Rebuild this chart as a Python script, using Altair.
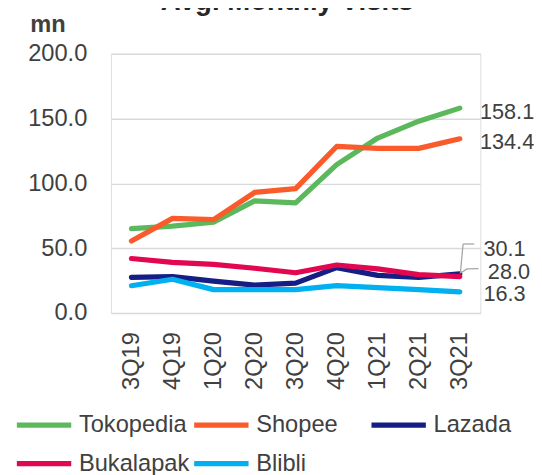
import altair as alt
import pandas as pd

chart_title = "Avg. Monthly Visits"
quarters = ["3Q19", "4Q19", "1Q20", "2Q20", "3Q20", "4Q20", "1Q21", "2Q21", "3Q21"]
series_names = ["Tokopedia", "Shopee", "Lazada", "Bukalapak", "Blibli"]
tokopedia = [65.0, 67.0, 70.0, 86.5, 85.0, 114.5, 135.0, 148.0, 158.1]
shopee = [55.5, 73.0, 72.0, 93.0, 96.0, 128.5, 127.0, 127.0, 134.4]
lazada = [27.5, 28.0, 24.5, 21.5, 23.0, 35.0, 29.0, 27.5, 30.1]
bukalapak = [42.0, 39.0, 37.5, 34.5, 31.0, 37.0, 34.0, 29.5, 28.0]
blibli = [21.0, 26.0, 18.0, 18.0, 18.0, 21.0, 19.5, 18.0, 16.3]
colors = ["#5CB85C", "#FA5B2B", "#141E85", "#E2074F", "#00B0F0"]
y_ticks = [0, 50, 100, 150, 200]

values = [tokopedia, shopee, lazada, bukalapak, blibli]
rows = []
for name, vals in zip(series_names, values):
    for q, v in zip(quarters, vals):
        rows.append({"quarter": q, "series": name, "value": v})
df = pd.DataFrame(rows)
last = df[df["quarter"] == quarters[-1]]

FONT = "Liberation Sans"
TXT = "#404040"

x_enc = alt.X(
    "quarter:N",
    sort=quarters,
    scale=alt.Scale(type="point", padding=0.5, domain=quarters),
    axis=alt.Axis(
        title=None, labelAngle=270, labelAlign="right", labelBaseline="middle",
        labelPadding=19, labelFontSize=24, labelColor=TXT, labelFont=FONT,
        ticks=False, domain=False, grid=False,
    ),
)
y_enc = alt.Y(
    "value:Q",
    scale=alt.Scale(domain=[0, 200], nice=False),
    axis=alt.Axis(
        values=y_ticks, format=".1f", labelFontSize=24, labelColor=TXT,
        labelFont=FONT, labelPadding=24.5, ticks=False, domain=False,
        grid=True, gridColor="#D9D9D9", gridWidth=1.5,
        title="mn", titleAngle=0, titleFontSize=24, titleFontWeight="bold",
        titleFont=FONT, titleColor=TXT, titleX=-64.5, titleY=-23,
        titleAlign="center", titleBaseline="alphabetic",
    ),
)
color_enc = alt.Color(
    "series:N",
    sort=series_names,
    scale=alt.Scale(domain=series_names, range=colors),
    legend=alt.Legend(
        title=None, orient="none", legendX=-94.9, legendY=350,
        direction="horizontal", columns=3, gridAlign="all",
        columnPadding=-7, rowPadding=0, labelOffset=8.4,
        symbolType="M-1.15,0H1.15", symbolSize=2304, symbolStrokeWidth=5.3,
        labelFontSize=24, labelFont=FONT, labelColor=TXT, labelLimit=300,
        padding=0,
    ),
)

layers = []
for name in series_names:
    layers.append(
        alt.Chart(df)
        .transform_filter(alt.datum.series == name)
        .mark_line(strokeWidth=5.3, strokeCap="round", strokeJoin="round")
        .encode(x=x_enc, y=y_enc, color=color_enc)
    )

label_style = {
    "Tokopedia": (20.5, 4.0),
    "Shopee": (20.5, 3.7),
    "Lazada": (24.0, -25.4),
    "Bukalapak": (28.5, -4.7),
    "Blibli": (24.0, 2.4),
}
for name in series_names:
    dx, dy = label_style[name]
    layers.append(
        alt.Chart(last)
        .transform_filter(alt.datum.series == name)
        .mark_text(align="left", baseline="middle", dx=dx, dy=dy,
                   fontSize=22, font=FONT, color=TXT)
        .encode(x=x_enc, y=y_enc, text=alt.Text("value:Q", format=".1f"))
    )

leader_style = {
    "Lazada": [((0.6, -0.4), (3.3, -30.4)), ((3.3, -30.4), (14.6, -30.4))],
    "Bukalapak": [((1.3, -3.9), (7.3, -7.9)), ((7.3, -7.9), (19.0, -8.2))],
}
for name, segs in leader_style.items():
    for (x0, y0), (x1, y1) in segs:
        layers.append(
            alt.Chart(last)
            .transform_filter(alt.datum.series == name)
            .mark_rule(color="#A6A6A6", strokeWidth=1.3,
                       xOffset=x0, yOffset=y0, x2Offset=x1, y2Offset=y1)
            .encode(x=x_enc, y=y_enc, x2="quarter:N", y2="value:Q")
        )

title_layer = (
    alt.Chart(pd.DataFrame({"title": [chart_title]}))
    .mark_text(fontSize=28, fontWeight="bold", font=FONT, color="#262626",
               align="center", baseline="alphabetic")
    .encode(x=alt.value(179), y=alt.value(-44.3), text="title:N")
)
layers.append(title_layer)

chart = (
    alt.layer(*layers)
    .properties(
        width=375, height=263,
        autosize=alt.AutoSizeParams(type="none"),
        padding={"left": 104.5, "top": 43, "right": 54.5, "bottom": 161},
    )
    .configure_view(stroke=None)
    .configure(background="white")
)

chart.save("out.html", embed_options={"renderer": "svg", "actions": False})
